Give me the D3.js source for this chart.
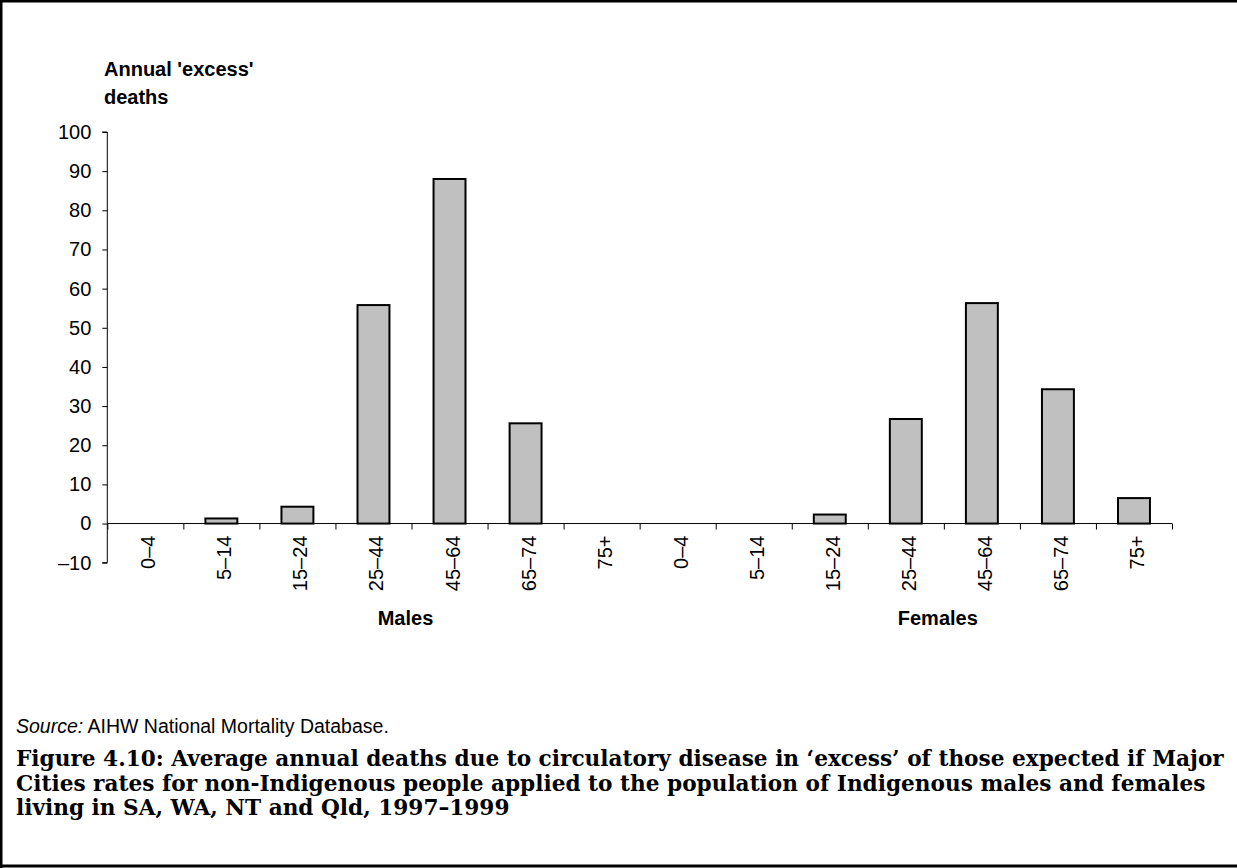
<!DOCTYPE html>
<html>
<head>
<meta charset="utf-8">
<script src="https://cdn.jsdelivr.net/npm/d3@7"></script>
<style>
  html, body { margin: 0; padding: 0; background: #fff; }
  svg { display: block; }
</style>
</head>
<body>
<svg id="chart" width="1237" height="868"></svg>
<script>
// ---- data ----
const ageGroups = ["0–4", "5–14", "15–24", "25–44", "45–64", "65–74", "75+"];
const sexes = ["Males", "Females"];
const malesExcess = [0, 1.3, 4.3, 55.8, 88.0, 25.6, 0];
const femalesExcess = [0, 0, 2.3, 26.7, 56.3, 34.3, 6.5];
const yTickValues = [-10, 0, 10, 20, 30, 40, 50, 60, 70, 80, 90, 100];
const yTitleLines = ["Annual 'excess'", "deaths"];
const sourceLabel = "Source:";
const sourceText = " AIHW National Mortality Database.";
const captionLines = [
  "Figure 4.10: Average annual deaths due to circulatory disease in ‘excess’ of those expected if Major",
  "Cities rates for non-Indigenous people applied to the population of Indigenous males and females",
  "living in SA, WA, NT and Qld, 1997–1999"
];

const rows = [];
sexes.forEach((s, si) => {
  const vals = si === 0 ? malesExcess : femalesExcess;
  ageGroups.forEach((a, ai) => rows.push({ key: s + "|" + a, sex: s, age: a, value: vals[ai] }));
});

// ---- layout ----
const SANS = "Arial, 'Liberation Sans', sans-serif";
const SERIF = "'Book Antiqua', 'Palatino Linotype', 'DejaVu Serif', serif";
const svg = d3.select("#chart").style("font-family", SANS);
const W = 1237, H = 868;
const plotLeft = 107.3, plotRight = 1172;
const yTop = 132, yBottom = 562.7;

const x = d3.scaleBand()
  .domain(rows.map(d => d.key))
  .range([plotLeft, plotRight])
  .paddingInner(0.58)
  .paddingOuter(0.29);
const y = d3.scaleLinear().domain([-10, 100]).range([yBottom, yTop]);

// outer frame (left, top, bottom)
svg.append("line").attr("x1", 1).attr("x2", 1).attr("y1", 0).attr("y2", H).attr("stroke", "#000").attr("stroke-width", 3);
svg.append("line").attr("x1", 0).attr("x2", W).attr("y1", 1).attr("y2", 1).attr("stroke", "#000").attr("stroke-width", 3);
svg.append("line").attr("x1", 0).attr("x2", W).attr("y1", H - 2).attr("y2", H - 2).attr("stroke", "#000").attr("stroke-width", 3);

// y axis
const yAxis = d3.axisLeft(y)
  .tickValues(yTickValues)
  .tickSize(5)
  .tickPadding(11)
  .tickFormat(d => d < 0 ? "–" + Math.abs(d) : String(d));
const yg = svg.append("g").attr("transform", `translate(${plotLeft},0)`).call(yAxis);
yg.attr("font-family", null).attr("font-size", null);
yg.select(".domain").attr("stroke", "#000").attr("stroke-width", 1).attr("d", `M-5,${yTop}H0V${yBottom}H-5`);
yg.selectAll(".tick line").attr("stroke", "#000");
yg.selectAll(".tick text").style("font-size", "20px").style("font-family", SANS).attr("fill", "#000");

// y title
svg.append("g").selectAll("text").data(yTitleLines).join("text")
  .attr("x", 104).attr("y", (d, i) => 76 + i * 28)
  .style("font-size", "20px").style("font-weight", "bold").text(d => d);

// bars
svg.append("g").selectAll("rect").data(rows.filter(d => d.value !== 0)).join("rect")
  .attr("x", d => x(d.key))
  .attr("width", x.bandwidth())
  .attr("y", d => y(Math.max(0, d.value)))
  .attr("height", d => Math.abs(y(d.value) - y(0)))
  .attr("fill", "#c0c0c0")
  .attr("stroke", "#000")
  .attr("stroke-width", 2);

// x axis (at zero) with ticks between categories
const boundary = d3.scaleLinear().domain([0, rows.length]).range([plotLeft, plotRight]);
const xAxis = d3.axisBottom(boundary).tickValues(d3.range(0, rows.length + 1)).tickSize(6).tickFormat("");
const xg = svg.append("g").attr("transform", `translate(0,${y(0)})`).call(xAxis);
xg.select(".domain").attr("stroke", "#000").attr("d", `M${plotLeft},0H${plotRight}`);
xg.selectAll(".tick line").attr("stroke", "#000");

// category labels (rotated)
svg.append("g").selectAll("text").data(rows).join("text")
  .attr("transform", d => `translate(${x(d.key) + x.bandwidth() / 2 + 3},${y(0) + 12}) rotate(-90)`)
  .attr("text-anchor", "end")
  .attr("dy", "0.35em")
  .style("font-size", "20px")
  .text(d => d.age);

// group labels
svg.append("g").selectAll("text").data(sexes).join("text")
  .attr("x", (d, i) => boundary(i * ageGroups.length + ageGroups.length / 2) + 32)
  .attr("y", 625)
  .attr("text-anchor", "middle")
  .style("font-size", "20px").style("font-weight", "bold")
  .text(d => d);

// source
const src = svg.append("text").attr("x", 16).attr("y", 733).style("font-size", "19.5px");
src.append("tspan").style("font-style", "italic").text(sourceLabel);
src.append("tspan").text(sourceText);

// caption
const cap = svg.append("g").selectAll("text").data(captionLines).join("text")
  .attr("x", 16).attr("y", (d, i) => 766 + i * 24.5)
  .style("font-family", SERIF)
  .style("font-weight", "bold")
  .style("font-size", "20px")
  .text(d => d);
// fit first line to the reference width
const w = cap.node().getComputedTextLength();
cap.style("font-size", (20 * 1209 / w) + "px");
</script>
</body>
</html>
